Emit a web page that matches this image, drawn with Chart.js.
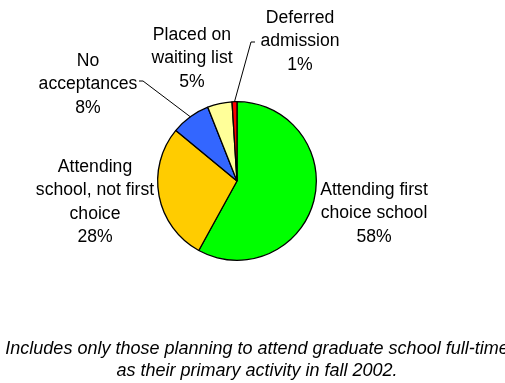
<!DOCTYPE html>
<html>
<head>
<meta charset="utf-8">
<script src="https://cdn.jsdelivr.net/npm/chart.js@4/dist/chart.umd.min.js"></script>
<style>
  html, body { margin: 0; padding: 0; background: #fff; }
  #wrap { width: 505px; height: 383px; }
</style>
</head>
<body>
<div id="wrap"><canvas id="pieChart" width="505" height="383"></canvas></div>
<script>
// slices, clockwise from 12 o'clock
const categories = [
  "Attending first choice school",
  "Attending school, not first choice",
  "No acceptances",
  "Placed on waiting list",
  "Deferred admission"
];
const values = [58, 28, 8, 5, 1];
// how each label is broken into lines (the % line is added from values)
const labelLines = [
  ["Attending first", "choice school"],
  ["Attending", "school, not first", "choice"],
  ["No", "acceptances"],
  ["Placed on", "waiting list"],
  ["Deferred", "admission"]
];
const footnote = [
  "Includes only those planning to attend graduate school full-time",
  "as their primary activity in fall 2002."
];

const colors = ["#00FF00", "#FFCC00", "#3366FF", "#FFFF99", "#FF0000"];

// label placement: center x, y of first line
const labelPos = [
  { x: 374, y: 190 },
  { x: 95, y: 167 },
  { x: 88, y: 61 },
  { x: 192, y: 35 },
  { x: 300, y: 18 }
];
// leader lines: elbow points, from slice edge
const leaders = {
  2: [[143, 81], [139, 81]],
  4: [[251, 42], [255, 42]]
};

const labelPlugin = {
  id: "pieLabels",
  afterDraw(chart) {
    const ctx = chart.ctx;
    const arcs = chart.getDatasetMeta(0).data;
    ctx.save();
    ctx.fillStyle = "#000";
    ctx.font = '17.6px "Liberation Sans", Arial, sans-serif';
    ctx.textAlign = "center";
    ctx.textBaseline = "middle";
    const lh = 23.5;
    values.forEach((v, i) => {
      const lines = labelLines[i].concat([v + "%"]);
      const p = labelPos[i];
      lines.forEach((t, k) => ctx.fillText(t, p.x, p.y + k * lh));
    });

    // leader lines
    ctx.strokeStyle = "#000";
    ctx.lineWidth = 1;
    Object.keys(leaders).forEach(key => {
      const a = arcs[key];
      const mid = (a.startAngle + a.endAngle) / 2;
      const sx = a.x + Math.cos(mid) * a.outerRadius;
      const sy = a.y + Math.sin(mid) * a.outerRadius;
      ctx.beginPath();
      ctx.moveTo(sx, sy);
      leaders[key].forEach(pt => ctx.lineTo(pt[0], pt[1]));
      ctx.stroke();
    });

    // footnote
    ctx.font = 'italic 18px "Liberation Sans", Arial, sans-serif';
    ctx.fillText(footnote[0], 257, 349);
    ctx.fillText(footnote[1], 257, 371);
    ctx.restore();
  }
};

new Chart(document.getElementById("pieChart").getContext("2d"), {
  type: "pie",
  data: {
    labels: categories,
    datasets: [{
      data: values,
      backgroundColor: colors,
      borderColor: "#000",
      borderWidth: 1.3
    }]
  },
  options: {
    responsive: false,
    animation: false,
    layout: { padding: { left: 157, right: 188, top: 101, bottom: 122 } },
    plugins: {
      legend: { display: false },
      tooltip: { enabled: false }
    }
  },
  plugins: [labelPlugin]
});
</script>
</body>
</html>
